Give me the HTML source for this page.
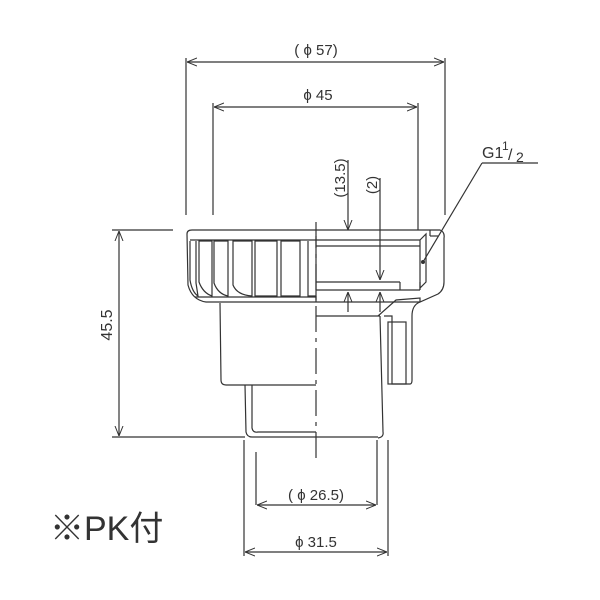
<!DOCTYPE html>
<html><head><style>body{margin:0;background:#fff}svg{display:block}text{font-family:"Liberation Sans","Noto Sans CJK JP",sans-serif;fill:#333}</style></head>
<body>
<svg width="600" height="600" viewBox="0 0 600 600" xmlns="http://www.w3.org/2000/svg">
<defs>
<marker id="a" viewBox="0 0 10 10" refX="10" refY="5" markerWidth="10" markerHeight="10" orient="auto-start-reverse" markerUnits="userSpaceOnUse"><path d="M0,1 L10,5 L0,9" fill="none" stroke="#333" stroke-width="1"/></marker>
</defs>
<g stroke="#333" stroke-width="1.2" fill="none">
<line x1="186" y1="58" x2="186" y2="215"/>
<line x1="445" y1="58" x2="445" y2="215"/>
<line x1="213" y1="103" x2="213" y2="215"/>
<line x1="418" y1="103" x2="418" y2="230"/>
<line x1="187" y1="62" x2="444" y2="62" marker-start="url(#a)" marker-end="url(#a)"/>
<line x1="214" y1="107" x2="417" y2="107" marker-start="url(#a)" marker-end="url(#a)"/>
<line x1="112" y1="230" x2="173" y2="230"/>
<line x1="112" y1="437" x2="245" y2="437"/>
<line x1="119" y1="231" x2="119" y2="436" marker-start="url(#a)" marker-end="url(#a)"/>
<line x1="348" y1="160" x2="348" y2="230" marker-end="url(#a)"/>
<line x1="348" y1="292" x2="348" y2="312" marker-start="url(#a)"/>
<line x1="380" y1="178" x2="380" y2="280" marker-end="url(#a)"/>
<line x1="380" y1="292" x2="380" y2="312" marker-start="url(#a)"/>
<line x1="256" y1="452" x2="256" y2="505"/>
<line x1="377" y1="440" x2="377" y2="505"/>
<line x1="257" y1="505" x2="376" y2="505" marker-start="url(#a)" marker-end="url(#a)"/>
<line x1="244" y1="440" x2="244" y2="556"/>
<line x1="388" y1="440" x2="388" y2="556"/>
<line x1="245" y1="552" x2="387" y2="552" marker-start="url(#a)" marker-end="url(#a)"/>
<line x1="316" y1="222" x2="316" y2="460" stroke-dasharray="26,6,4,6"/>
<!-- cap -->
<path d="M187,234 Q187,230 192,230 L440,230 Q445,232 444,238 L444,282 Q444,290 438,294 L420,302 L316,302"/>
<path d="M316,302 L206,302 Q192,300 188,285 L187,234"/>
<line x1="190" y1="240" x2="316" y2="240"/>
<!-- ribs (slots) -->
<path d="M190,241 L190,280 Q192,292 198,296 L196,283 L196,241"/>
<path d="M199,241 L199,282 Q203,293 212,296 L212,241 Z"/>
<path d="M214,241 L214,283 Q218,294 228,296 L228,241 Z"/>
<path d="M233,241 L233,285 Q237,295 252,296 L252,241 Z"/>
<path d="M255,241 L255,296 L277,296 L277,241 Z"/>
<path d="M281,241 L281,296 L300,296 L300,241 Z"/>
<path d="M308,241 L308,296 L316,296"/>
<line x1="195" y1="297" x2="316" y2="297"/>
<!-- thread section -->
<line x1="316" y1="236" x2="316" y2="302"/>
<line x1="316" y1="240" x2="420" y2="240"/>
<line x1="316" y1="246" x2="420" y2="246"/>
<path d="M420,240 L426,234 L426,282 L420,288 L420,240"/>
<line x1="430" y1="230" x2="430" y2="236"/><line x1="430" y1="236" x2="438" y2="236"/>
<line x1="316" y1="282" x2="400" y2="282"/>
<line x1="316" y1="290" x2="420" y2="290"/>
<line x1="400" y1="282" x2="400" y2="290"/>
<line x1="420" y1="282" x2="420" y2="290"/>
<path d="M378,316 L396,300 L420,298 L420,302"/>
<line x1="316" y1="316" x2="380" y2="316"/>
<!-- body -->
<path d="M220,303 L221,380 Q221,385 226,385 L316,385"/>
<path d="M380,316 L383,432 Q384,437 378,438"/>
<rect x="388" y="322" width="18" height="62"/>
<path d="M384,316 L392,316 L392,384 L410,384 Q412,384 412,380 L412,316 Q412,305 420,302"/>
<path d="M245,385 L246,432 Q247,437 252,437 L378,437"/>
<path d="M252,385 L252,428 Q253,433 258,432 L316,432"/>
<line x1="482" y1="163" x2="538" y2="163"/>
<line x1="482" y1="163" x2="423" y2="262"/>
</g>
<circle cx="423" cy="262" r="2" fill="#333"/>
<text x="316" y="55" font-size="15" text-anchor="middle">( ϕ 57)</text>
<text x="318" y="100" font-size="15" text-anchor="middle">ϕ 45</text>
<text x="316" y="500" font-size="15" text-anchor="middle">( ϕ 26.5)</text>
<text x="316" y="547" font-size="15" text-anchor="middle">ϕ 31.5</text>
<text transform="translate(112,325) rotate(-90)" font-size="16" text-anchor="middle">45.5</text>
<text transform="translate(345,178) rotate(-90)" font-size="15" text-anchor="middle">(13.5)</text>
<text transform="translate(377,185) rotate(-90)" font-size="15" text-anchor="middle">(2)</text>
<text x="482" y="158" font-size="16">G1</text>
<text x="502" y="150" font-size="12">1</text>
<text x="508" y="160" font-size="16">/</text>
<text x="516" y="162" font-size="14">2</text>
<text x="50" y="540" font-size="34">※PK付</text>
</svg>
</body></html>
